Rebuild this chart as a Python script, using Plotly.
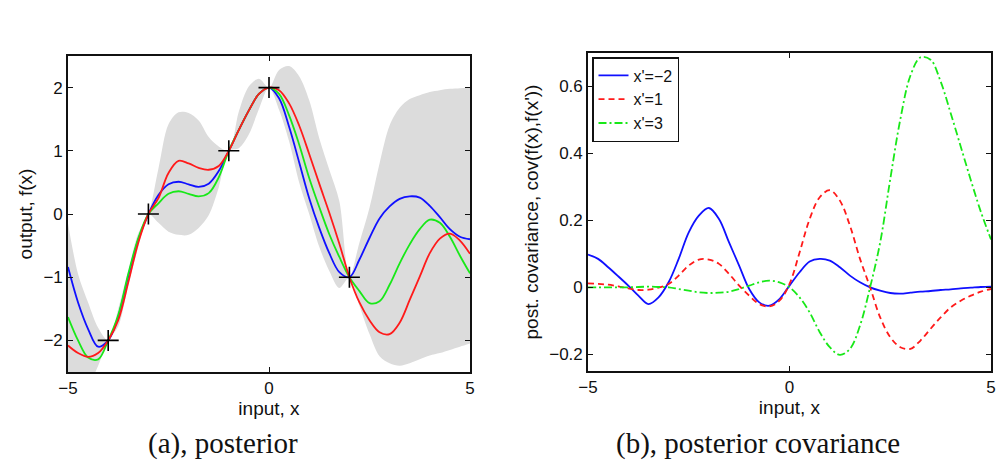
import plotly.graph_objects as go

# ---------------- data: panel (a) posterior ----------------
x_grid = [-5, -4.75, -4.5, -4.25, -4, -3.75, -3.5, -3.25, -3, -2.75, -2.5, -2.25, -2, -1.75,
          -1.5, -1.25, -1, -0.75, -0.5, -0.25, 0, 0.25, 0.5, 0.75, 1, 1.25, 1.5, 1.75, 2,
          2.25, 2.5, 2.75, 3, 3.25, 3.5, 3.75, 4, 4.25, 4.5, 4.75, 5]

band_upper = [-0.15, -0.95, -1.40, -1.80, -2.0, -1.50, -0.88, -0.30, 0.0, 0.72, 1.42, 1.61,
              1.60, 1.48, 1.22, 1.07, 1.0, 1.62, 2.02, 2.14, 2.0, 2.28, 2.34, 2.18, 1.80,
              1.20, 0.70, 0.20, -1.0, -0.45, 0.10, 0.80, 1.40, 1.68, 1.82, 1.88, 1.93,
              1.96, 1.98, 1.99, 2.0]
band_lower = [-3.3, -3.0, -2.75, -2.40, -2.0, -1.78, -1.12, -0.52, 0.0, -0.14, -0.28, -0.33,
              -0.33, -0.22, -0.02, 0.42, 1.0, 1.04, 1.26, 1.66, 2.0, 1.65, 1.15, 0.50, 0.0,
              -0.52, -0.90, -1.17, -1.0, -1.45, -1.90, -2.25, -2.36, -2.40, -2.36, -2.30,
              -2.24, -2.20, -2.15, -2.10, -2.05]

sample_blue = [-0.84, -1.40, -1.82, -2.10, -2.0, -1.62, -0.98, -0.40, 0.0, 0.30, 0.47, 0.51,
               0.47, 0.43, 0.48, 0.68, 1.0, 1.33, 1.64, 1.90, 2.0, 1.83, 1.38, 0.82, 0.25,
               -0.22, -0.62, -0.92, -1.0, -0.72, -0.38, -0.07, 0.12, 0.24, 0.28, 0.26, 0.13,
               -0.05, -0.24, -0.36, -0.40]
sample_red = [-2.08, -2.20, -2.26, -2.20, -2.0, -1.68, -1.08, -0.45, 0.0, 0.25, 0.65, 0.84,
              0.80, 0.73, 0.70, 0.76, 1.0, 1.33, 1.64, 1.90, 2.0, 1.96, 1.75, 1.40, 0.95,
              0.48, 0.02, -0.47, -1.0, -1.40, -1.68, -1.87, -1.90, -1.72, -1.36, -0.99,
              -0.62, -0.39, -0.31, -0.42, -0.63]
sample_green = [-1.63, -2.0, -2.27, -2.30, -2.0, -1.60, -0.95, -0.38, 0.0, 0.17, 0.32, 0.36,
                0.32, 0.28, 0.33, 0.58, 1.0, 1.33, 1.64, 1.90, 2.0, 1.90, 1.56, 1.10, 0.57,
                0.11, -0.32, -0.68, -1.0, -1.22, -1.41, -1.38, -1.12, -0.78, -0.48, -0.24,
                -0.09, -0.14, -0.36, -0.66, -0.94]

obs_x = [-4, -3, -1, 0, 2]
obs_y = [-2, 0, 1, 2, -1]

# ---------------- data: panel (b) posterior covariance ----------------
cov_x = x_grid
cov_xm2 = [0.098, 0.085, 0.060, 0.033, 0.005, -0.025, -0.050, -0.030, 0.015, 0.085, 0.164,
           0.214, 0.237, 0.204, 0.134, 0.065, -0.005, -0.045, -0.055, -0.035, 0.005, 0.045,
           0.077, 0.085, 0.080, 0.060, 0.035, 0.015, 0.0, -0.010, -0.017, -0.019, -0.016,
           -0.013, -0.011, -0.008, -0.006, -0.003, -0.001, 0.001, 0.002]
cov_x1 = [0.012, 0.010, 0.008, 0.003, -0.003, -0.008, -0.007, -0.001, 0.010, 0.035, 0.065,
          0.083, 0.083, 0.070, 0.040, 0.005, -0.025, -0.050, -0.057, -0.040, 0.010, 0.104,
          0.204, 0.269, 0.290, 0.259, 0.184, 0.085, 0.0, -0.090, -0.149, -0.179, -0.184,
          -0.159, -0.124, -0.090, -0.060, -0.040, -0.025, -0.013, -0.005]
cov_x3 = [0.0, 0.0, 0.0, 0.0, 0.0, 0.001, 0.002, 0.001, 0.0, -0.005, -0.010, -0.015, -0.017,
          -0.016, -0.013, -0.005, 0.005, 0.015, 0.020, 0.015, 0.0, -0.030, -0.075, -0.134,
          -0.179, -0.202, -0.184, -0.114, 0.0, 0.134, 0.323, 0.502, 0.632, 0.687, 0.680,
          0.615, 0.520, 0.420, 0.320, 0.225, 0.143]

cov_names = ["x'=\u22122", "x'=1", "x'=3"]

# ---------------- figure ----------------
BLUE = "#1010ff"
RED = "#ff1a1a"
GREEN = "#18e818"
GRAY = "#dcdcdc"
SANS = "Liberation Sans, Arial, sans-serif"

fig = go.Figure()

# panel (a)
fig.add_trace(go.Scatter(x=x_grid, y=band_lower, mode="lines",
                         line=dict(width=0, shape="spline", smoothing=0.9),
                         showlegend=False, hoverinfo="skip", xaxis="x", yaxis="y"))
fig.add_trace(go.Scatter(x=x_grid, y=band_upper, mode="lines",
                         line=dict(width=0, shape="spline", smoothing=0.9),
                         fill="tonexty", fillcolor=GRAY, showlegend=False, hoverinfo="skip",
                         xaxis="x", yaxis="y"))
for ys, col in [(sample_blue, BLUE), (sample_green, GREEN), (sample_red, RED)]:
    fig.add_trace(go.Scatter(x=x_grid, y=ys, mode="lines",
                             line=dict(color=col, width=1.8, shape="spline"),
                             showlegend=False, xaxis="x", yaxis="y"))
fig.add_trace(go.Scatter(x=obs_x, y=obs_y, mode="markers",
                         marker=dict(symbol="cross-thin", size=15, color="black",
                                     line=dict(color="black", width=1.6)),
                         showlegend=False, xaxis="x", yaxis="y"))

# panel (b)
for ys, col, dash, name in [(cov_xm2, BLUE, "solid", cov_names[0]),
                            (cov_x1, RED, "6px,4px", cov_names[1]),
                            (cov_x3, GREEN, "8px,3px,2px,3px", cov_names[2])]:
    fig.add_trace(go.Scatter(x=cov_x, y=ys, mode="lines", name=name,
                             line=dict(color=col, width=1.8, dash=dash, shape="spline"),
                             xaxis="x2", yaxis="y2"))

W, H = 1003, 462
def px_x(p):
    return p / W
def px_y(p):
    return 1 - p / H

axis_common = dict(showline=True, linecolor="#111", linewidth=1.6, mirror="ticks",
                   ticks="inside", ticklen=5, tickwidth=1, tickcolor="#111",
                   showgrid=False, zeroline=False,
                   tickfont=dict(family=SANS, size=17, color="#111"))

fig.update_layout(
    width=W, height=H,
    margin=dict(l=0, r=0, t=0, b=0, autoexpand=False),
    paper_bgcolor="white", plot_bgcolor="white",
    xaxis=dict(domain=[px_x(68), px_x(470)], range=[-5, 5], tickvals=[-5, 0, 5],
               title=dict(text="input, x", font=dict(family=SANS, size=19, color="#111"),
                          standoff=4),
               anchor="y", **axis_common),
    yaxis=dict(domain=[px_y(372), px_y(56)], range=[-2.5, 2.5], tickvals=[-2, -1, 0, 1, 2],
               title=dict(text="output, f(x)", font=dict(family=SANS, size=19, color="#111"),
                          standoff=6),
               anchor="x", **axis_common),
    xaxis2=dict(domain=[px_x(588), px_x(991)], range=[-5, 5], tickvals=[-5, 0, 5],
                title=dict(text="input, x", font=dict(family=SANS, size=19, color="#111"),
                           standoff=4),
                anchor="y2", **axis_common),
    yaxis2=dict(domain=[px_y(371), px_y(53)], range=[-0.25, 0.7],
                tickvals=[-0.2, 0, 0.2, 0.4, 0.6],
                title=dict(text="post. covariance, cov(f(x),f(x'))",
                           font=dict(family=SANS, size=19, color="#111"), standoff=6),
                anchor="x2", **axis_common),
    legend=dict(x=px_x(592), y=px_y(57), xanchor="left", yanchor="top",
                traceorder="normal",
                bgcolor="white", bordercolor="#111", borderwidth=1.5,
                font=dict(family=SANS, size=16, color="#111"),
                tracegroupgap=0, itemwidth=30),
    annotations=[
        dict(text="(a), posterior", x=px_x(223), y=px_y(443), xref="paper", yref="paper",
             showarrow=False, xanchor="center", yanchor="middle",
             font=dict(family="Liberation Serif, Times New Roman, serif", size=29, color="#111")),
        dict(text="(b), posterior covariance", x=px_x(758), y=px_y(443), xref="paper",
             yref="paper", showarrow=False, xanchor="center", yanchor="middle",
             font=dict(family="Liberation Serif, Times New Roman, serif", size=29, color="#111")),
    ],
)

fig.write_html("out.html")
